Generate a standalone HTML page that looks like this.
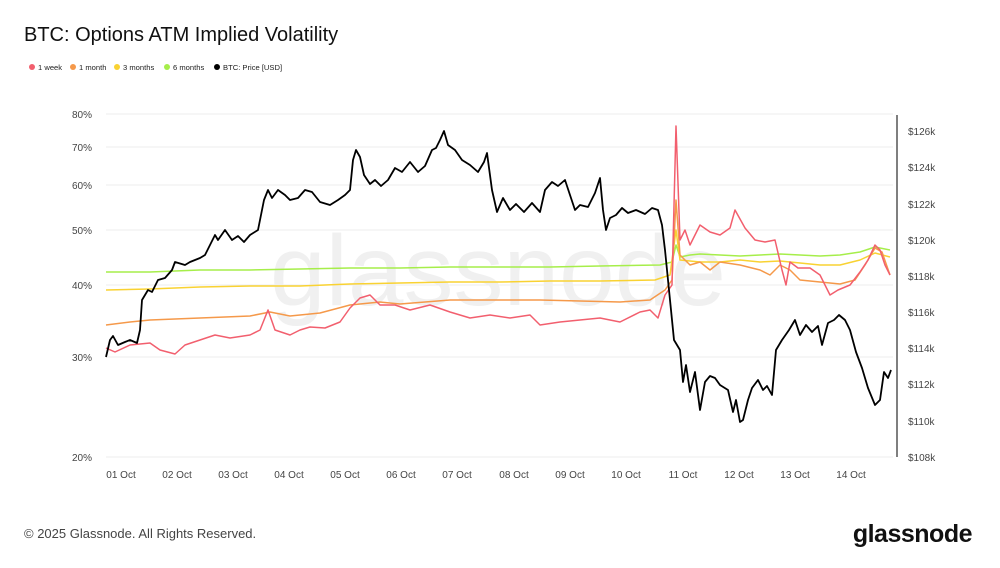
<!DOCTYPE html>
<html><head><meta charset="utf-8"><style>
body{margin:0;background:#fff;font-family:"Liberation Sans",sans-serif;}
</style></head><body>
<svg width="1000" height="563" xmlns="http://www.w3.org/2000/svg" font-family="Liberation Sans, sans-serif">
<rect width="1000" height="563" fill="#fff"/>
<text x="24" y="41" font-size="20" fill="#111">BTC: Options ATM Implied Volatility</text>
<g font-size="7.6" fill="#222">
<circle cx="32" cy="67" r="3" fill="#f25f6e"/><text x="38" y="70">1 week</text>
<circle cx="73" cy="67" r="3" fill="#f5994a"/><text x="79" y="70">1 month</text>
<circle cx="117" cy="67" r="3" fill="#f9d232"/><text x="123" y="70">3 months</text>
<circle cx="167" cy="67" r="3" fill="#a6ee4a"/><text x="173" y="70">6 months</text>
<circle cx="217" cy="67" r="3" fill="#000"/><text x="223" y="70">BTC: Price [USD]</text>
</g>
<g stroke="#eee" stroke-width="1">
<line x1="106" x2="893" y1="114" y2="114"/><line x1="106" x2="893" y1="147" y2="147"/>
<line x1="106" x2="893" y1="185" y2="185"/><line x1="106" x2="893" y1="230" y2="230"/>
<line x1="106" x2="893" y1="285" y2="285"/><line x1="106" x2="893" y1="357" y2="357"/>
<line x1="106" x2="893" y1="457" y2="457"/>
</g>
<text x="498" y="305" font-size="100" fill="#f0f0f0" text-anchor="middle">glassnode</text>
<g font-size="10" fill="#444" text-anchor="end">
<text x="92" y="118">80%</text><text x="92" y="151">70%</text><text x="92" y="189">60%</text>
<text x="92" y="234">50%</text><text x="92" y="289">40%</text><text x="92" y="361">30%</text><text x="92" y="461">20%</text>
</g>
<line x1="897" y1="115" x2="897" y2="457" stroke="#555" stroke-width="1.5"/>
<g font-size="10" fill="#444">
<text x="908" y="135">$126k</text><text x="908" y="171">$124k</text><text x="908" y="208">$122k</text>
<text x="908" y="244">$120k</text><text x="908" y="280">$118k</text><text x="908" y="316">$116k</text>
<text x="908" y="352">$114k</text><text x="908" y="388">$112k</text><text x="908" y="425">$110k</text><text x="908" y="461">$108k</text>
</g>
<g font-size="10" fill="#444" text-anchor="middle">
<text x="121" y="478">01 Oct</text><text x="177" y="478">02 Oct</text><text x="233" y="478">03 Oct</text>
<text x="289" y="478">04 Oct</text><text x="345" y="478">05 Oct</text><text x="401" y="478">06 Oct</text>
<text x="457" y="478">07 Oct</text><text x="514" y="478">08 Oct</text><text x="570" y="478">09 Oct</text>
<text x="626" y="478">10 Oct</text><text x="683" y="478">11 Oct</text><text x="739" y="478">12 Oct</text>
<text x="795" y="478">13 Oct</text><text x="851" y="478">14 Oct</text>
</g>
<g fill="none" stroke-width="1.5" stroke-linejoin="round">
<polyline stroke="#a6ee4a" points="106,272 150,272 200,270 250,270 300,269 350,268 400,268 450,267 500,267 550,267 600,266 660,265 672,262 676,245 680,257 690,255 700,254 720,255 740,256 760,255 780,254 800,255 820,256 840,255 860,252 875,247 890,250"/>
<polyline stroke="#f9d232" points="106,290 150,289 200,287 250,286 300,286 350,284 400,283 450,282 500,282 550,281 600,281 655,280 670,275 676,230 680,260 700,262 720,262 740,260 760,262 780,261 800,263 820,265 840,265 860,260 875,253 890,257"/>
<polyline stroke="#f5994a" points="106,325 130,322 150,320 200,318 250,316 270,312 290,316 320,313 350,305 380,302 400,304 450,300 500,300 540,300 580,301 620,302 650,300 665,290 672,280 676,200 680,255 690,265 700,262 710,270 720,262 740,265 760,270 770,275 780,265 790,270 800,280 820,282 840,284 855,280 865,265 875,248 882,252 890,275"/>
<polyline stroke="#f25f6e" points="106,348 115,352 130,345 150,343 160,350 175,354 185,345 200,340 215,335 230,338 250,335 260,330 268,310 275,330 290,335 300,330 310,327 325,328 340,322 350,308 360,298 370,295 380,305 395,305 410,310 430,305 450,312 470,318 490,315 510,318 530,315 540,325 560,322 580,320 600,318 620,322 640,312 650,310 658,318 665,295 672,285 676,126 680,240 685,230 690,245 700,225 710,232 720,235 730,228 735,210 745,228 755,240 765,242 775,240 782,270 786,285 790,262 798,268 810,268 820,275 830,295 838,290 850,285 860,272 868,260 875,245 880,250 885,265 890,275"/>
<polyline stroke="#000" stroke-width="1.8" points="106,357 110,340 113,336 118,345 125,342 130,340 137,343 140,330 142,300 148,290 152,292 158,280 165,278 172,270 175,262 185,265 190,262 200,258 205,255 210,245 215,235 218,240 225,230 232,240 238,236 244,242 250,235 258,230 264,200 268,190 272,198 278,190 285,195 290,200 298,198 305,190 312,192 320,202 330,205 338,200 345,195 350,190 353,160 356,150 360,157 364,175 370,184 375,180 381,186 388,180 395,168 402,172 410,162 418,172 425,166 432,150 436,148 440,140 444,131 448,145 455,150 462,160 470,165 478,172 484,162 487,153 492,190 497,212 503,198 510,210 516,204 524,212 532,203 540,212 545,190 552,182 558,186 565,180 570,195 575,210 580,205 588,207 595,193 600,178 603,210 606,230 610,218 616,215 622,208 628,213 636,210 645,214 652,208 658,210 662,225 665,250 670,300 674,340 677,345 680,350 683,382 686,365 690,392 695,372 700,410 705,382 710,376 715,378 720,385 728,390 733,412 736,400 740,422 743,420 748,400 752,388 758,380 763,390 767,386 772,395 776,350 782,340 789,330 795,320 800,335 806,325 812,332 818,326 822,345 828,323 834,320 839,315 845,320 850,330 856,352 862,368 868,388 875,405 880,400 884,372 888,378 891,370"/>
</g>
<text x="24" y="538" font-size="13" fill="#444">© 2025 Glassnode. All Rights Reserved.</text>
<text x="972" y="542" font-size="25" fill="#111" text-anchor="end" font-weight="bold" letter-spacing="-0.5">glassnode</text>
</svg>
</body></html>
